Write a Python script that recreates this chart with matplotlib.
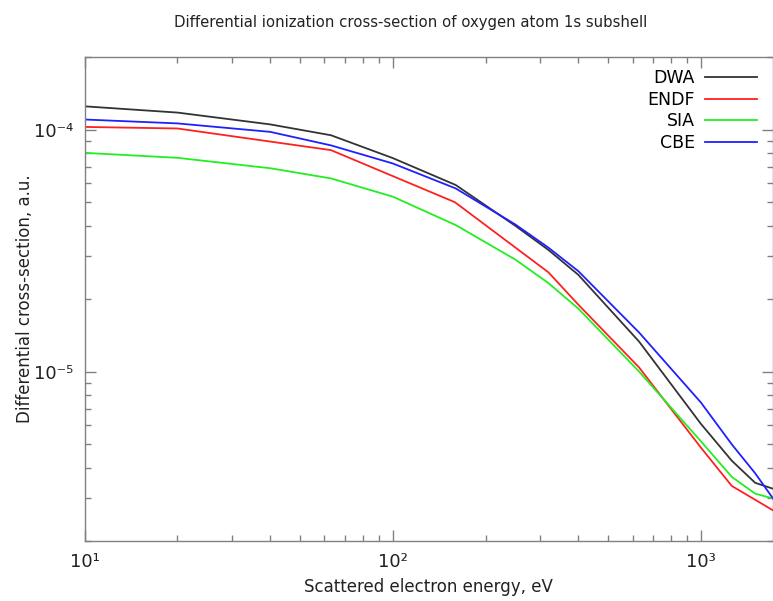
import numpy as np
import matplotlib.pyplot as plt
from matplotlib.ticker import LogLocator, NullFormatter, FuncFormatter

# scattered electron energy grid, eV
energy = [10, 20, 40, 63, 100, 160, 250, 320, 400, 630, 1000, 1260, 1500, 1714]

dwa = [1.247e-4, 1.175e-4, 1.05e-4, 9.47e-5, 7.62e-5, 5.9e-5, 4.0e-5, 3.18e-5,
       2.51e-5, 1.33e-5, 6.08e-6, 4.28e-6, 3.47e-6, 3.28e-6]
cbe = [1.10e-4, 1.06e-4, 9.78e-5, 8.6e-5, 7.24e-5, 5.71e-5, 4.05e-5, 3.25e-5,
       2.6e-5, 1.45e-5, 7.45e-6, 5.0e-6, 3.8e-6, 2.99e-6]
sia = [8.01e-5, 7.64e-5, 6.92e-5, 6.28e-5, 5.28e-5, 4.03e-5, 2.9e-5, 2.32e-5,
       1.82e-5, 1.0e-5, 5.15e-6, 3.67e-6, 3.13e-6, 2.99e-6]

# ENDF tabulated points
energy_endf = [10, 20, 63, 159, 320, 400, 630, 1000, 1259, 1714]
endf = [1.025e-4, 1.01e-4, 8.22e-5, 5.01e-5, 2.57e-5, 1.89e-5, 1.04e-5,
        4.85e-6, 3.37e-6, 2.67e-6]

SUP = str.maketrans('-0123456789', '⁻⁰¹²³⁴⁵⁶⁷⁸⁹')


def pow10(v, pos):
    e = int(round(np.log10(v)))
    return '10' + str(e).translate(SUP)


fig = plt.figure(figsize=(7.73, 6.01), dpi=100)
ax = fig.add_axes([0.1096, 0.1003, 0.8904, 0.8054])

lw = 1.3
ax.plot(energy, dwa, color='#333333', lw=lw, label='DWA')
ax.plot(energy_endf, endf, color='#ff2020', lw=lw, label='ENDF')
ax.plot(energy, sia, color='#22ee22', lw=lw, label='SIA')
ax.plot(energy, cbe, color='#2020ff', lw=lw, label='CBE')

ax.set_xscale('log')
ax.set_yscale('log')
ax.set_xlim(10, 1714)
ax.set_ylim(2e-6, 2e-4)

ax.xaxis.set_major_locator(LogLocator(base=10))
ax.yaxis.set_major_locator(LogLocator(base=10))
ax.xaxis.set_minor_locator(LogLocator(base=10, subs=np.arange(2, 10)))
ax.yaxis.set_minor_locator(LogLocator(base=10, subs=np.arange(2, 10)))
ax.xaxis.set_major_formatter(FuncFormatter(pow10))
ax.yaxis.set_major_formatter(FuncFormatter(pow10))
ax.xaxis.set_minor_formatter(NullFormatter())
ax.yaxis.set_minor_formatter(NullFormatter())

for s in ax.spines.values():
    s.set_color('#808080')
    s.set_linewidth(1.0)
ax.tick_params(which='both', direction='in', top=True, right=True,
               colors='#808080', labelcolor='#222222', labelsize=13)
ax.tick_params(which='major', length=8, width=1)
ax.tick_params(axis='x', which='major', pad=9)
ax.tick_params(axis='y', which='major', pad=8)
ax.tick_params(which='minor', length=4.5, width=1)

fig.text(411 / 773, 1 - 22 / 601,
         'Differential ionization cross-section of oxygen atom 1s subshell',
         fontsize=10.7, ha='center', va='center', color='#222222')
ax.set_xlabel('Scattered electron energy, eV', fontsize=12, labelpad=5,
              color='#222222')
ax.set_ylabel('Differential cross-section, a.u.', fontsize=12, labelpad=0,
              color='#222222')

ax.legend(loc='upper right', frameon=False, markerfirst=False, fontsize=12.5,
          handlelength=3.0, handletextpad=0.6, labelspacing=0.22,
          borderaxespad=0.3, bbox_to_anchor=(0.995, 1.0))

fig.savefig('out.png', dpi=100)
